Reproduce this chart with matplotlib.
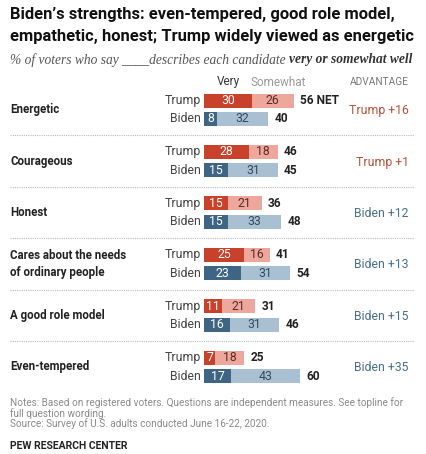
import matplotlib
matplotlib.use("Agg")
import matplotlib.pyplot as plt

W, H = 426, 454

categories = ["Energetic", "Courageous", "Honest",
              "Cares about the needs\nof ordinary people",
              "A good role model", "Even-tempered"]
trump_very = [30, 28, 15, 25, 11, 7]
trump_somewhat = [26, 18, 21, 16, 21, 18]
trump_total = [56, 46, 36, 41, 31, 25]
biden_very = [8, 15, 15, 23, 16, 17]
biden_somewhat = [32, 31, 33, 31, 31, 43]
biden_total = [40, 45, 48, 54, 46, 60]
advantage = ["Trump +16", "Trump +1", "Biden +12", "Biden +13", "Biden +15", "Biden +35"]
candidates = ["Trump", "Biden"]

T_DARK, T_LIGHT = "#c8412a", "#eea79c"
B_DARK, B_LIGHT = "#3f6584", "#a8c0d1"
FONT = "Roboto"

fig = plt.figure(figsize=(W / 100, H / 100), dpi=100)
fig.patch.set_facecolor("white")

# axes: x in percent (1.6 px per point), y in pixel rows from the top
ax = fig.add_axes([204 / W, 1 - 390 / H, 160 / W, 300 / H])
ax.set_xlim(0, 100)
ax.set_ylim(390, 90)
ax.axis("off")

step, gap, first = 51.4, 18.5, 100.5
bar_h = 14

for i, cat in enumerate(categories):
    yt = first + i * step
    yb = yt + gap
    ymid = (yt + yb) / 2
    rows = [(yt, trump_very[i], trump_somewhat[i], trump_total[i], T_DARK, T_LIGHT, "#5a2a22"),
            (yb, biden_very[i], biden_somewhat[i], biden_total[i], B_DARK, B_LIGHT, "#2f4a60")]
    for (y, v, s, tot, cd, cl, tc), name in zip(rows, candidates):
        ax.barh(y, v, height=bar_h, color=cd, edgecolor="none")
        ax.barh(y, s, left=v, height=bar_h, color=cl, edgecolor="none")
        ax.text(v / 2, y, str(v), ha="center", va="center", color="white",
                fontsize=8.8, family=FONT)
        ax.text(v + s / 2, y, str(s), ha="center", va="center", color=tc,
                fontsize=8.8, family=FONT)
        lab = f"{tot} NET" if i == 0 and name == "Trump" else str(tot)
        ax.text(v + s + 4, y, lab, ha="left", va="center", color="#222222",
                fontsize=8.6, family=FONT, fontweight="bold")
        ax.text(-2, y, name, ha="right", va="center", color="#444444",
                fontsize=8.8, family=FONT, clip_on=False)
    ax.text(-121, ymid, cat, ha="left", va="center", color="#222222",
            fontsize=8.3, family=FONT, fontweight="bold", linespacing=1.35)
    acol = "#b5533c" if advantage[i].startswith("Trump") else "#4a6f8c"
    ax.text(128, ymid + 1, advantage[i], ha="right", va="center", color=acol,
            fontsize=8.8, family=FONT)
    if i < len(categories) - 1:
        ysep = yb + (step - gap) / 2
        ax.plot([-121, 131], [ysep, ysep], linestyle=(0, (1, 1)), color="#bbbbbb",
                lw=0.8, clip_on=False)

# column headers
ax.text(15, 82, "Very", ha="center", va="center", color="#333333", fontsize=8.5, family=FONT)
ax.text(29, 82, "Somewhat", ha="left", va="center", color="#999999", fontsize=8.5, family=FONT)
ax.text(128, 82, "ADVANTAGE", ha="right", va="center", color="#777777", fontsize=7.3, family=FONT)


def fit_width(txt, target_px, size):
    # shrink/grow a text so it spans target_px pixels
    fig.canvas.draw()
    w = txt.get_window_extent().width
    txt.set_fontsize(size * target_px / w)


# title and subtitle
t1 = fig.text(10 / W, 1 - 15 / H, "Biden’s strengths: even-tempered, good role model,",
              ha="left", va="center", fontsize=12, fontweight="bold", family=FONT, color="#111111")
t2 = fig.text(10 / W, 1 - 36 / H, "empathetic, honest; Trump widely viewed as energetic",
              ha="left", va="center", fontsize=12, fontweight="bold", family=FONT, color="#111111")
fit_width(t2, 404, 12)
t1.set_fontsize(t2.get_fontsize())

SERIF = "Liberation Serif"
sub1 = fig.text(10 / W, 1 - 60 / H, "% of voters who say ____describes each candidate ",
                ha="left", va="center", fontsize=10, style="italic", family=SERIF,
                color="#555555")
sub2 = fig.text(0, 1 - 60 / H, "very or somewhat well", ha="left", va="center",
                fontsize=10, style="italic", fontweight="bold", family=SERIF, color="#333333")
fig.canvas.draw()
total_w = sub1.get_window_extent().width + sub2.get_window_extent().width
scale = 404 / total_w
sub1.set_fontsize(10 * scale)
sub2.set_fontsize(10 * scale)
fig.canvas.draw()
sub2.set_x(sub1.get_window_extent().x1 / W)

# notes
notes = ["Notes: Based on registered voters. Questions are independent measures. See topline for",
         "full question wording.",
         "Source: Survey of U.S. adults conducted June 16-22, 2020."]
for k, line in enumerate(notes):
    fig.text(10 / W, 1 - (403 + k * 10.5) / H, line, ha="left", va="center",
             fontsize=7.2, family=FONT, color="#8a8a8a")
fig.text(10 / W, 1 - 446 / H, "PEW RESEARCH CENTER", ha="left", va="center",
         fontsize=7.5, fontweight="bold", family=FONT, color="#222222")

fig.savefig("out.png", dpi=100, facecolor="white")
plt.close(fig)
